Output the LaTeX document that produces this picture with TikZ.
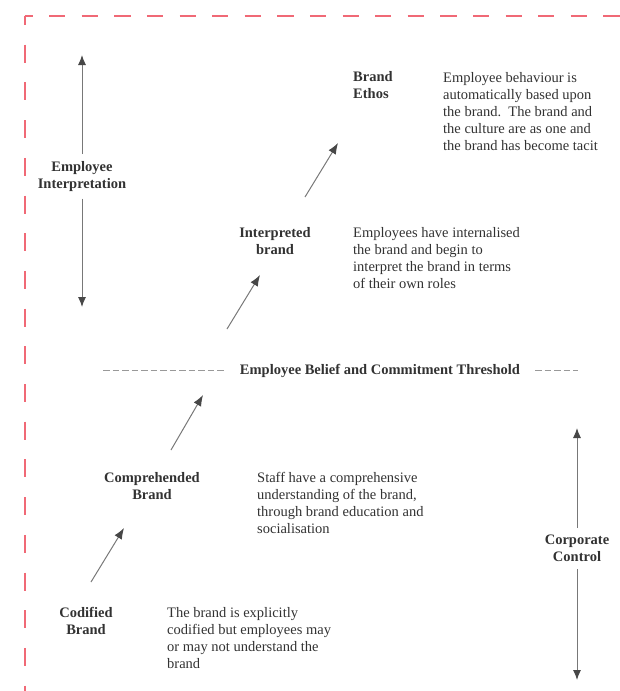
\documentclass[tikz,border=0pt]{standalone}
\usepackage{fontspec}
\setmainfont{Liberation Serif}
\usetikzlibrary{arrows.meta}

\definecolor{frame}{RGB}{240,105,118}
\definecolor{ink}{RGB}{50,50,50}
\definecolor{shaft}{RGB}{120,120,120}

\tikzset{
  label/.style={font=\fontsize{14.5}{17}\selectfont\bfseries, text=ink, inner sep=0pt},
  note/.style={font=\fontsize{14.5}{17}\selectfont, text=ink, align=left, inner sep=0pt, anchor=north west},
  stage/.style={draw=shaft, line width=1pt, -{Latex[length=11pt,width=8.5pt,color=ink!90]}},
  axis/.style={draw=shaft, line width=1pt, -{Latex[length=10pt,width=8pt,color=ink!90]}},
  threshold/.style={draw=gray!80, line width=0.7pt, dash pattern=on 6.5pt off 3pt},
}

\begin{document}
\begin{tikzpicture}[x=1pt,y=-1pt]
\useasboundingbox (0,0) rectangle (620,691);

% dashed frame (top and left edges)
\draw[frame, line width=2pt, dash pattern=on 16.3pt off 16.3pt, dash phase=8pt]
  (24.5,16) -- (620,16);
\draw[frame, line width=2pt, dash pattern=on 18pt off 19.7pt, dash phase=9pt]
  (24.5,16) -- (24.5,691);

% stage labels
\node[label, align=left, anchor=north west] (ethos) at (353,71) {Brand\\Ethos};
\node[label, align=center, anchor=north] (interp) at (275,227) {Interpreted\\brand};
\node[label, align=center, anchor=north] (compr) at (152,472) {Comprehended\\Brand};
\node[label, align=center, anchor=north] (codif) at (86,607) {Codified\\Brand};

% stage descriptions
\node[note] (ethosTxt) at (443,72) {Employee behaviour is\\automatically based upon\\the brand.\ \ The brand and\\the culture are as one and\\the brand has become tacit};
\node[note] (interpTxt) at (353,227) {Employees have internalised\\the brand and begin to\\interpret the brand in terms\\of their own roles};
\node[note] (comprTxt) at (257,472) {Staff have a comprehensive\\understanding of the brand,\\through brand education and\\socialisation};
\node[note] (codifTxt) at (167,607) {The brand is explicitly\\codified but employees may\\or may not understand the\\brand};

% threshold line
\node[label, inner xsep=15pt, anchor=base] (thr) at (380,374) {Employee Belief and Commitment Threshold};
\coordinate (thrL) at (103,370);
\coordinate (thrR) at (578,370);
\draw[threshold] (thrL) -- (thr.west |- thrL);
\draw[threshold] (thr.east |- thrR) -- (thrR);

% progression arrows between stages
\coordinate (s1a) at (91,582);  \coordinate (s1b) at (124,528);
\coordinate (s2a) at (171,450); \coordinate (s2b) at (203,395);
\coordinate (s3a) at (227,329); \coordinate (s3b) at (260,275);
\coordinate (s4a) at (305,197); \coordinate (s4b) at (338,143);
\draw[stage] (s1a) -- (s1b);
\draw[stage] (s2a) -- (s2b);
\draw[stage] (s3a) -- (s3b);
\draw[stage] (s4a) -- (s4b);

% employee interpretation axis
\node[label, align=center, anchor=north, inner ysep=7pt] (emp) at (82,154) {Employee\\Interpretation};
\coordinate (empTop) at (82,55);
\coordinate (empBot) at (82,307);
\draw[axis] (emp.north) -- (empTop);
\draw[axis] (emp.south) -- (empBot);

% corporate control axis
\node[label, align=center, anchor=north, inner ysep=7pt] (corp) at (577,528) {Corporate\\Control};
\coordinate (corpTop) at (577,428);
\coordinate (corpBot) at (577,680);
\draw[axis] (corp.north) -- (corpTop);
\draw[axis] (corp.south) -- (corpBot);
\end{tikzpicture}
\end{document}
